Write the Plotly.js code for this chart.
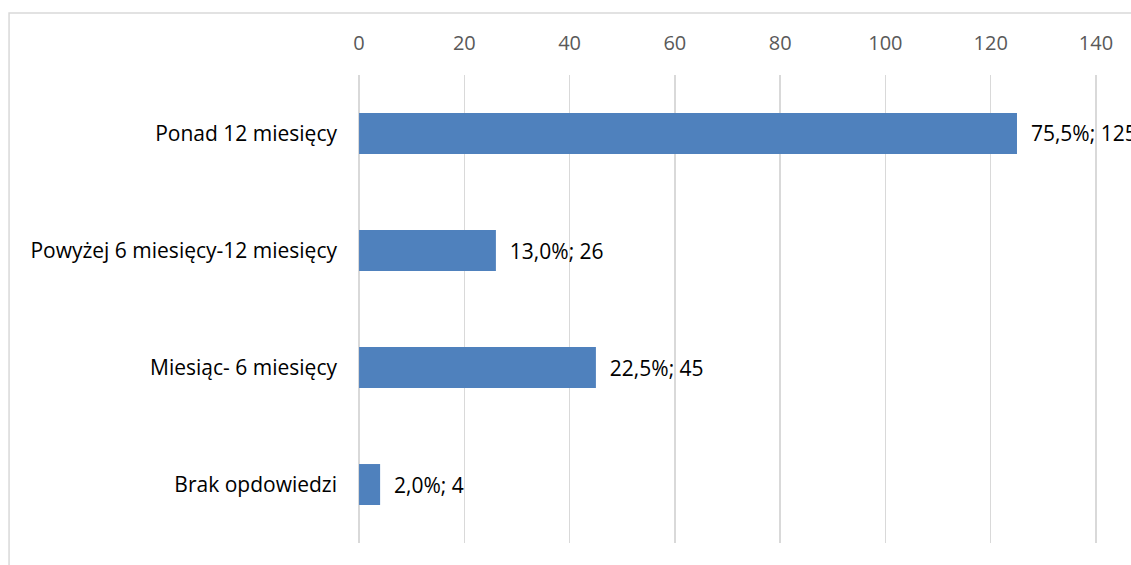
<!DOCTYPE html>
<html><head><meta charset="utf-8">
<script src="https://cdn.plot.ly/plotly-3.0.1.min.js"></script>
<style>html,body{margin:0;padding:0;background:#fff;overflow:hidden}#chart{width:1131px;height:565px}</style>
</head><body><div id="chart"></div>
<script>
const categories = ["Brak opdowiedzi", "Miesiąc- 6 miesięcy", "Powyżej 6 miesięcy-12 miesięcy", "Ponad 12 miesięcy"];
const counts = [4, 45, 26, 125];
const percents = ["2,0%", "22,5%", "13,0%", "75,5%"];
const xTicks = [0, 20, 40, 60, 80, 100, 120, 140];

const labels = percents.map((p, i) => "  " + p + "; " + counts[i]);

const font = "'Open Sans', 'Noto Sans', sans-serif";

Plotly.newPlot("chart", [{
  type: "bar",
  orientation: "h",
  y: categories,
  x: counts,
  text: labels,
  textposition: "outside",
  cliponaxis: false,
  textfont: {family: font, size: 21, color: "#000"},
  marker: {color: "#4f81bd", line: {width: 0}},
  width: 0.35,
  hoverinfo: "none"
}], {
  width: 1131, height: 565,
  margin: {l: 358, r: 34, t: 75, b: 22},
  paper_bgcolor: "#fff", plot_bgcolor: "#fff",
  showlegend: false,
  font: {family: font},
  xaxis: {
    side: "top", range: [-0.2, 140.2], tickvals: xTicks, ticks: "",
    ticklabelstandoff: 20,
    tickfont: {family: font, size: 20, color: "#595959"},
    showgrid: true, gridcolor: "#d9d9d9", gridwidth: 1.5,
    zeroline: false, showline: false, fixedrange: true
  },
  yaxis: {
    categoryorder: "array", categoryarray: categories,
    ticks: "", ticklabelstandoff: 20,
    tickfont: {family: font, size: 21, color: "#000"},
    showgrid: false, zeroline: false, showline: false
  },
  shapes: [{
    type: "rect", xref: "paper", yref: "paper",
    x0: -0.4722, x1: 1.3, y0: -0.3, y1: 1.1325,
    line: {color: "#d9d9d9", width: 1.5}, fillcolor: "rgba(0,0,0,0)", layer: "below"
  }]
}, {displayModeBar: false, staticPlot: true});
</script></body></html>
